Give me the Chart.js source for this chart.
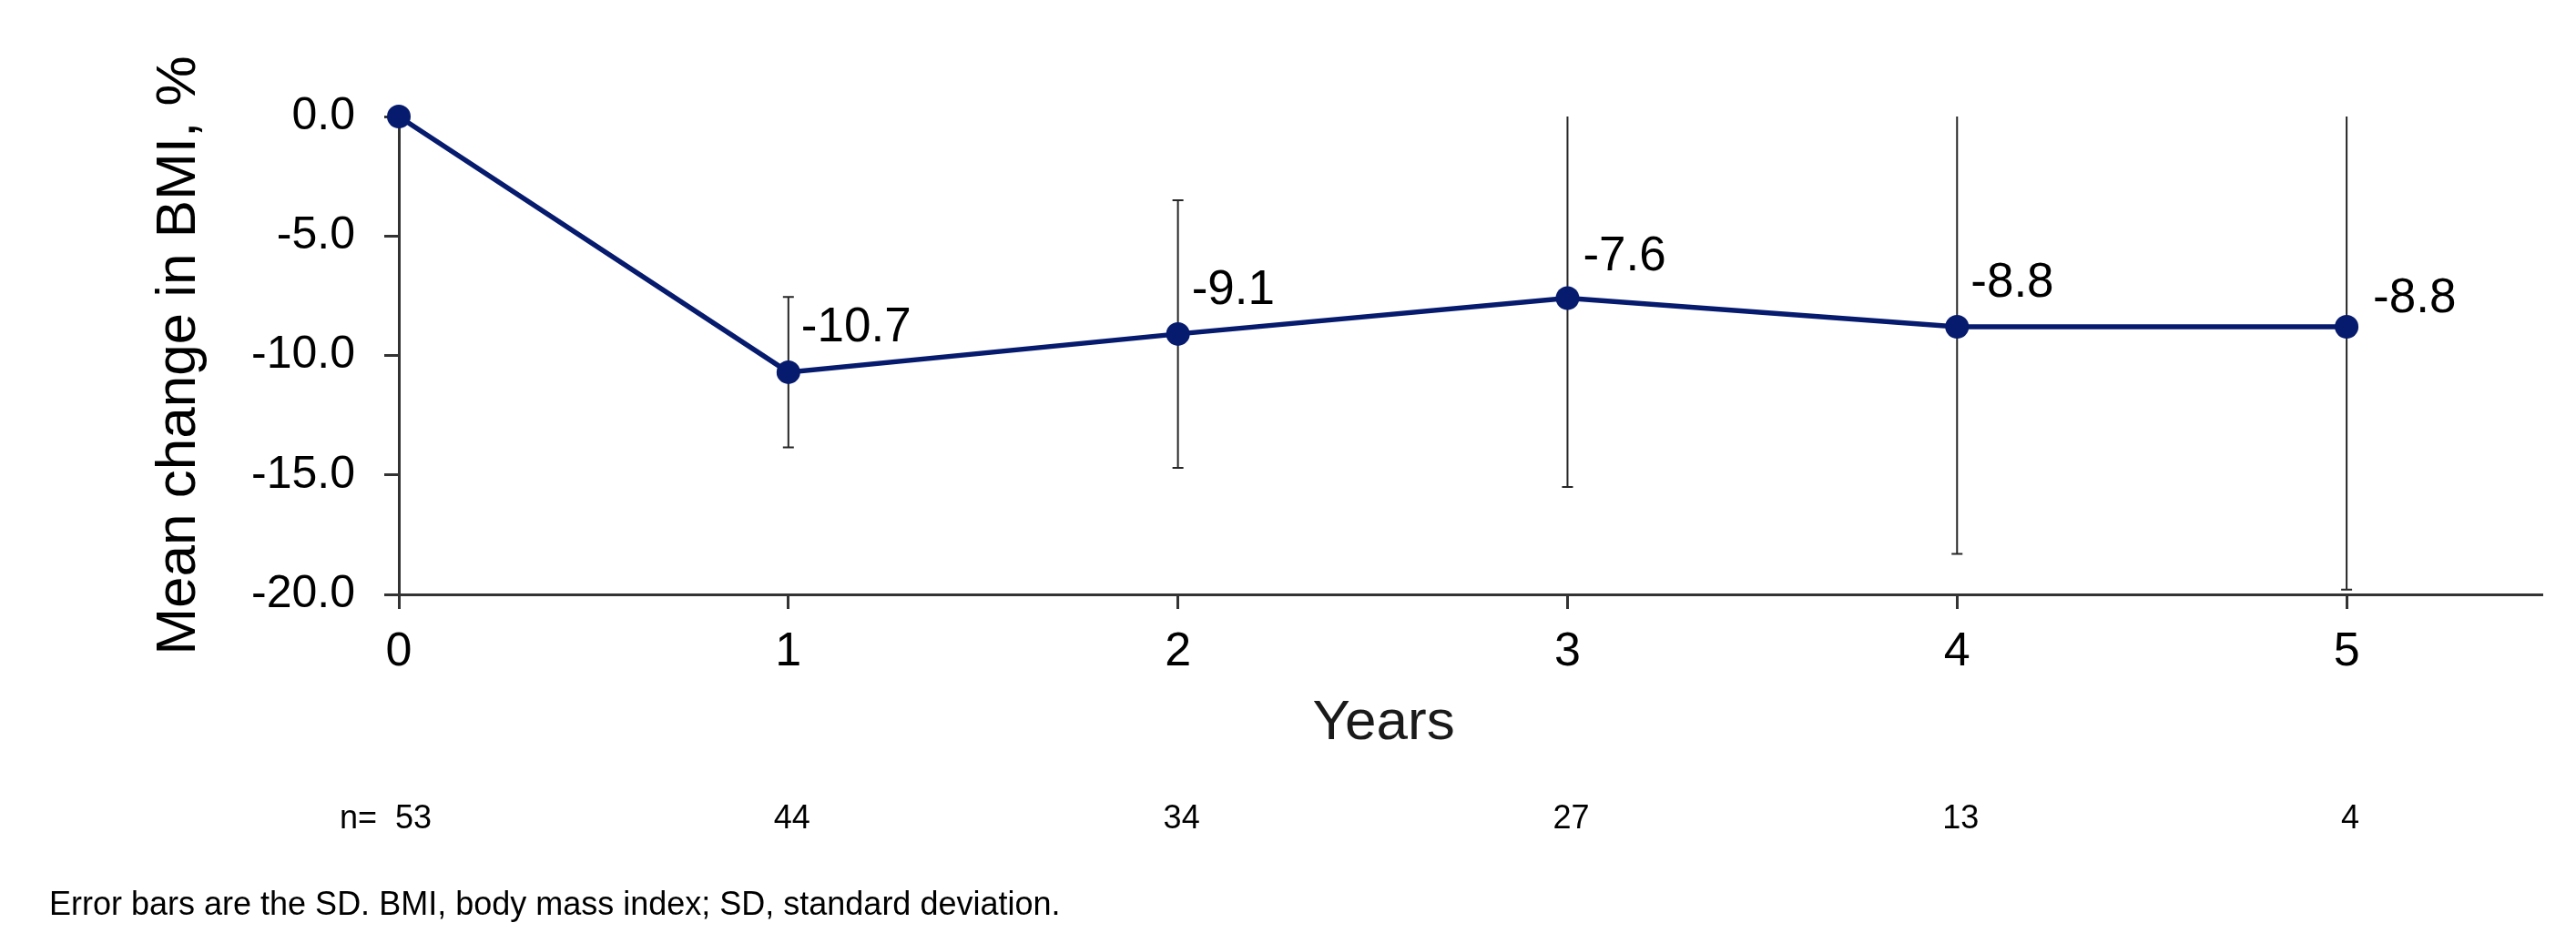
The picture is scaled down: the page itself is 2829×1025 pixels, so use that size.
<!DOCTYPE html>
<html>
<head>
<meta charset="utf-8">
<script src="https://cdn.jsdelivr.net/npm/chart.js@4.4.1/dist/chart.umd.min.js"></script>
<style>
  html, body { margin: 0; padding: 0; background: #fff; }
  #wrap { width: 2829px; height: 1025px; }
</style>
</head>
<body>
<div id="wrap"><canvas id="graph" width="2829" height="1025"></canvas></div>
<script>
// -------------------------
// DATA
// -------------------------
const years = [0, 1, 2, 3, 4, 5];
const meanChange = [0.0, -10.7, -9.1, -7.6, -8.8, -8.8];
const sdValues = [0, 3.15, 5.6, 7.9, 9.5, 11.0];
const valueLabels = ["", "-10.7", "-9.1", "-7.6", "-8.8", "-8.8"];
const nPatients = [53, 44, 34, 27, 13, 4];
const yTicks = [0, -5, -10, -15, -20];
const xTitle = "Years";
const yTitle = "Mean change in BMI, %";
const footnote = "Error bars are the SD. BMI, body mass index; SD, standard deviation.";

const FONT = "'Liberation Sans', Arial, sans-serif";
const NAVY = "#071b6e";
const AXIS = "#333333";

// -------------------------
// ERROR BARS (SD)
// -------------------------
const errorBars = {
  id: "errorBars",
  beforeDatasetsDraw(chart) {
    const { ctx, chartArea, scales: { x, y } } = chart;
    ctx.save();
    ctx.beginPath();
    ctx.rect(chartArea.left - 20, chartArea.top, chartArea.width + 40, chartArea.height);
    ctx.clip();
    ctx.strokeStyle = "#262626";
    ctx.lineWidth = 2;
    years.forEach((yr, i) => {
      if (!sdValues[i]) return;
      const px = x.getPixelForValue(yr);
      const top = y.getPixelForValue(meanChange[i] + sdValues[i]);
      const bot = y.getPixelForValue(meanChange[i] - sdValues[i]);
      ctx.beginPath();
      ctx.moveTo(px, top);
      ctx.lineTo(px, bot);
      ctx.moveTo(px - 6, top);
      ctx.lineTo(px + 6, top);
      ctx.moveTo(px - 6, bot);
      ctx.lineTo(px + 6, bot);
      ctx.stroke();
    });
    ctx.restore();
  }
};

// -------------------------
// VALUE LABELS
// -------------------------
const labelOffsets = [[0, 0], [14, -34], [15, -33], [17, -31], [15, -33], [29, -16]];

const pointLabels = {
  id: "pointLabels",
  afterDatasetsDraw(chart) {
    const { ctx, scales: { x, y } } = chart;
    ctx.save();
    ctx.font = "53px " + FONT;
    ctx.fillStyle = "#000";
    ctx.textAlign = "left";
    ctx.textBaseline = "alphabetic";
    valueLabels.forEach((txt, i) => {
      if (!txt) return;
      const px = x.getPixelForValue(years[i]);
      const py = y.getPixelForValue(meanChange[i]);
      ctx.fillText(txt, px + labelOffsets[i][0], py + labelOffsets[i][1]);
    });
    ctx.restore();
  }
};

// -------------------------
// X TITLE, n= ROW, FOOTNOTE
// -------------------------
const bottomText = {
  id: "bottomText",
  afterDraw(chart) {
    const { ctx, scales: { x } } = chart;
    ctx.save();
    ctx.textBaseline = "alphabetic";

    // axis title centred over the year ticks, not the whole axis
    ctx.font = "62px " + FONT;
    ctx.fillStyle = "#1a1a1a";
    ctx.textAlign = "center";
    const mid = (years[0] + years[years.length - 1]) / 2;
    ctx.fillText(xTitle, x.getPixelForValue(mid) + 12, 812);

    ctx.font = "36px " + FONT;
    ctx.fillStyle = "#000";
    const x0 = x.getPixelForValue(years[0]);
    ctx.textAlign = "right";
    ctx.fillText("n=", x0 - 24, 910);
    ctx.textAlign = "center";
    nPatients.forEach((n, i) => {
      const px = x.getPixelForValue(years[i]) + (i === 0 ? 16 : 4);
      ctx.fillText(String(n), px, 910);
    });
    ctx.textAlign = "left";
    ctx.fillText(footnote, 54, 1005);
    ctx.restore();
  }
};

// -------------------------
// CHART
// -------------------------
const ctx = document.getElementById("graph").getContext("2d");

new Chart(ctx, {
  type: "line",
  data: {
    datasets: [{
      data: years.map((yr, i) => ({ x: yr, y: meanChange[i] })),
      borderColor: NAVY,
      backgroundColor: NAVY,
      borderWidth: 5.5,
      pointRadius: 13,
      pointBorderWidth: 0,
      pointBackgroundColor: NAVY,
      tension: 0,
      clip: false
    }]
  },
  options: {
    responsive: false,
    animation: false,
    devicePixelRatio: 1,
    layout: { padding: { top: 128, right: 38, bottom: 192, left: 0 } },
    plugins: { legend: { display: false }, tooltip: { enabled: false } },
    scales: {
      x: {
        type: "linear",
        min: 0,
        max: 5.5,
        afterBuildTicks: s => { s.ticks = years.map(v => ({ value: v })); },
        afterFit: s => { s.height = 180; },
        grid: { drawOnChartArea: false, drawTicks: true, tickLength: 16, color: AXIS, lineWidth: 3 },
        border: { display: true, color: AXIS, width: 3 },
        ticks: { font: { family: FONT, size: 52 }, color: "#000", padding: 16, callback: v => String(v) }
      },
      y: {
        min: -20,
        max: 0,
        afterBuildTicks: s => { s.ticks = yTicks.map(v => ({ value: v })); },
        afterFit: s => { s.width = 438; },
        grid: { drawOnChartArea: false, drawTicks: true, tickLength: 16, color: AXIS, lineWidth: 3 },
        border: { display: true, color: AXIS, width: 3 },
        ticks: { font: { family: FONT, size: 50 }, color: "#000", padding: 32, callback: v => Number(v).toFixed(1) },
        title: {
          display: true,
          text: yTitle,
          color: "#000",
          font: { family: FONT, size: 62, lineHeight: 1 },
          padding: { top: 166, bottom: 0 }
        }
      }
    }
  },
  plugins: [errorBars, pointLabels, bottomText]
});
</script>
</body>
</html>
